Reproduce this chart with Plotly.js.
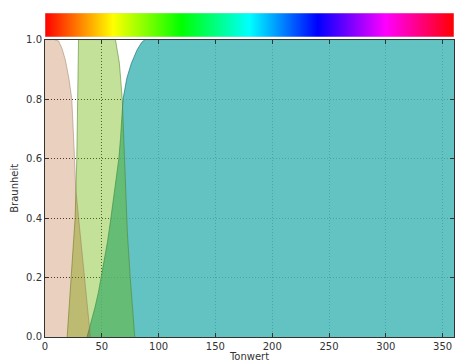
<!DOCTYPE html>
<html>
<head>
<meta charset="utf-8">
<script src="https://cdn.plot.ly/plotly-3.0.1.min.js"></script>
<style>html,body{margin:0;padding:0;background:#fff;}#chart{width:455px;height:362px;}</style>
</head>
<body>
<div id="chart"></div>
<script>
// Membership functions (x = Tonwert, y = Braunheit)
var pinkX  = [0, 8, 12, 15, 18, 21, 23.6, 25, 26, 27, 29.5, 32.5, 35.5, 38, 40];
var pinkY  = [1.0, 1.0, 0.995, 0.97, 0.93, 0.87, 0.8, 0.7, 0.6, 0.5, 0.4, 0.28, 0.16, 0.07, 0];

var lgreenX = [19.5, 23, 26.5, 28, 29, 29.5, 62, 65.5, 68, 69.5, 70.5, 72.5, 75, 77, 79];
var lgreenY = [0, 0.2, 0.4, 0.6, 0.8, 1.0, 1.0, 0.92, 0.8, 0.65, 0.5, 0.35, 0.2, 0.1, 0];

var tealX = [37, 40, 44, 47, 51, 55, 58, 61, 63, 65, 66.5, 68.7, 72, 76, 81, 85, 88, 360];
var tealY = [0, 0.04, 0.1, 0.15, 0.23, 0.32, 0.4, 0.48, 0.53, 0.6, 0.67, 0.8, 0.87, 0.92, 0.965, 0.99, 1.0, 1.0];

// Hue bar
var hueBarX = [0, 360, 360, 0, 0];
var hueBarY = [0, 0, 1, 1, 0];
var hueStops  = [0, 1/6, 2/6, 3/6, 4/6, 5/6, 1];
var hueColors = ['#ff0000', '#ffff00', '#00ff00', '#00ffff', '#0000ff', '#ff00ff', '#ff0000'];

var xTicks = [0, 50, 100, 150, 200, 250, 300, 350];
var yTicks = [0, 0.2, 0.4, 0.6, 0.8, 1.0];
var yTickText = ['0.0', '0.2', '0.4', '0.6', '0.8', '1.0'];

var hueScale = hueStops.map(function (s, i) { return [s, hueColors[i]]; });

var traces = [
  {x: tealX, y: tealY, type: 'scatter', mode: 'lines', fill: 'tozeroy',
   fillcolor: 'rgba(73,184,184,0.86)', line: {color: 'rgba(30,110,110,0.8)', width: 0.8},
   hoverinfo: 'skip', showlegend: false},
  {x: lgreenX, y: lgreenY, type: 'scatter', mode: 'lines', fill: 'tozeroy',
   fillcolor: 'rgba(105,180,0,0.4)', line: {color: 'rgba(80,130,40,0.7)', width: 0.8},
   hoverinfo: 'skip', showlegend: false},
  {x: pinkX, y: pinkY, type: 'scatter', mode: 'lines', fill: 'tozeroy',
   fillcolor: 'rgba(172,72,0,0.25)', line: {color: 'rgba(150,115,90,0.6)', width: 0.8},
   hoverinfo: 'skip', showlegend: false},
  {x: hueBarX, y: hueBarY, yaxis: 'y2', type: 'scatter', mode: 'lines', fill: 'toself',
   fillgradient: {type: 'horizontal', colorscale: hueScale},
   line: {color: 'rgba(215,215,215,1)', width: 0.6},
   hoverinfo: 'skip', showlegend: false}
];

var font = {family: 'DejaVu Sans', size: 10, color: '#333'};

var layout = {
  width: 455, height: 362,
  margin: {l: 45, r: 1, t: 13, b: 25, pad: 0},
  paper_bgcolor: '#fff', plot_bgcolor: '#fff',
  font: font,
  showlegend: false,
  xaxis: {
    range: [0, 360], tickvals: xTicks, ticktext: xTicks.map(String),
    showline: true, linecolor: '#333', linewidth: 1, mirror: 'ticks',
    ticks: 'inside', ticklen: 4, tickcolor: '#333',
    showgrid: true, gridcolor: 'rgba(0,0,0,0.8)', griddash: '1px,2px', gridwidth: 1,
    zeroline: false, tickfont: font,
    title: {text: 'Tonwert', font: font, standoff: 0},
    automargin: false, anchor: 'y'
  },
  yaxis: {
    domain: [0, 0.918], range: [0, 1], tickvals: yTicks, ticktext: yTickText,
    showline: true, linecolor: '#333', linewidth: 1, mirror: 'ticks',
    ticks: 'inside', ticklen: 4, tickcolor: '#333',
    showgrid: true, gridcolor: 'rgba(0,0,0,0.8)', griddash: '1px,2px', gridwidth: 1,
    zeroline: false, tickfont: font,
    title: {text: 'Braunheit', font: font, standoff: 5},
    automargin: false, anchor: 'x'
  },
  yaxis2: {
    domain: [0.926, 1], range: [0, 1], anchor: 'x',
    showline: false, showgrid: false, zeroline: false, showticklabels: false, ticks: ''
  }
};

Plotly.newPlot('chart', traces, layout, {displayModeBar: false, staticPlot: true});
</script>
</body>
</html>
